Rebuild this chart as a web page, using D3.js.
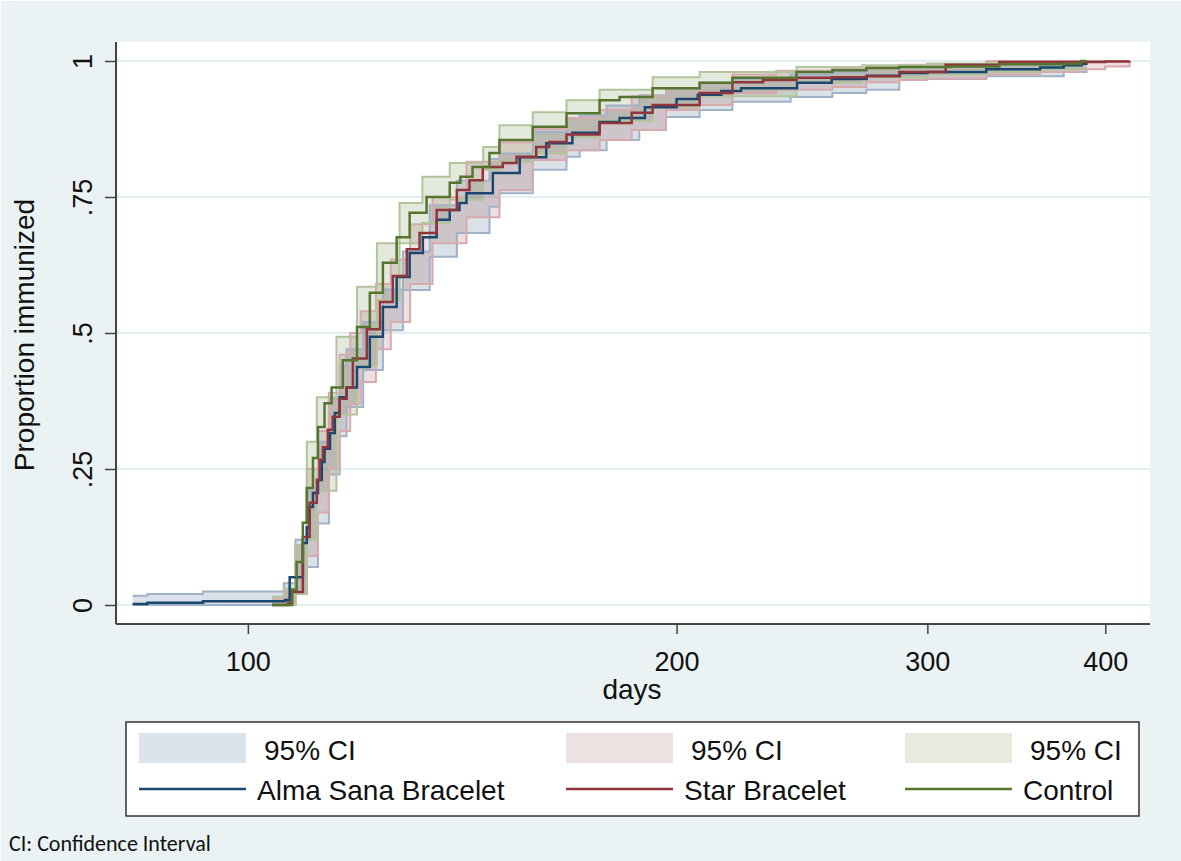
<!DOCTYPE html>
<html>
<head>
<meta charset="utf-8">
<script src="https://cdn.jsdelivr.net/npm/d3@7"></script>
<style>
  body { margin: 0; background: #ffffff; }
  text { font-family: "Liberation Sans", Arial, sans-serif; fill: #111; }
</style>
</head>
<body>
<div id="chart"></div>
<script>
// Kaplan-Meier failure estimates (proportion immunized)
const blueDays = [83, 85, 93, 106.2, 107, 109.3, 110, 110.5, 111.1, 112, 112.7, 113.2, 114.2, 115.1, 116, 117.3, 119.3, 121.8, 124.4, 127.2, 129.9, 132.7, 135.7, 138.6, 140.8, 142.4, 148.6, 155.2, 162, 169, 176.6, 182.4, 190, 200, 207, 215, 222, 230, 243, 257, 272, 287, 300, 330, 360, 374, 385, 388];
const blueEst  = [0.002, 0.004, 0.007, 0.009, 0.051, 0.114, 0.143, 0.18, 0.206, 0.23, 0.263, 0.287, 0.316, 0.353, 0.382, 0.40, 0.4375, 0.493, 0.548, 0.603, 0.647, 0.676, 0.708, 0.726, 0.739, 0.757, 0.794, 0.823, 0.849, 0.868, 0.888, 0.895, 0.915, 0.93, 0.938, 0.945, 0.95, 0.95, 0.96, 0.967, 0.973, 0.978, 0.98, 0.985, 0.988, 0.992, 0.995, 0.998];
const blueCiDays = [83, 85, 93, 104, 106, 108, 110, 112, 114, 116, 117.3, 120.5, 124.4, 128.5, 134.2, 140.2, 147.8, 150.2, 158.5, 167.4, 171, 178.6, 188.3, 196.6, 207.6, 218.9, 240.5, 257.3, 271.8, 286.7, 299.6, 330, 374, 388];
const blueLo   = [0, 0, 0, 0, 0, 0.02, 0.07, 0.15, 0.24, 0.31, 0.364, 0.432, 0.505, 0.579, 0.64, 0.684, 0.732, 0.757, 0.80, 0.824, 0.836, 0.855, 0.873, 0.897, 0.91, 0.925, 0.934, 0.941, 0.947, 0.965, 0.967, 0.972, 0.98, 0.987];
const blueHi   = [0.017, 0.02, 0.025, 0.025, 0.04, 0.12, 0.21, 0.30, 0.38, 0.44, 0.47, 0.52, 0.58, 0.65, 0.735, 0.78, 0.82, 0.83, 0.87, 0.895, 0.90, 0.918, 0.937, 0.95, 0.96, 0.967, 0.975, 0.98, 0.987, 0.99, 0.99, 0.993, 0.996, 1];

const redDays = [104, 106.7, 107.4, 109.3, 110.5, 111.8, 112.3, 112.9, 113.8, 114.7, 116, 117.3, 118.5, 121.2, 123.8, 126.4, 129.3, 132, 135.7, 140.2, 143.1, 146.2, 151, 154.4, 159.4, 162.8, 167.4, 176.6, 186, 192.4, 207.6, 218.9, 230, 242.8, 257.3, 271.8, 286.7, 309, 337, 360, 400, 416];
const redEst  = [0, 0.004, 0.024, 0.125, 0.188, 0.23, 0.267, 0.29, 0.322, 0.346, 0.379, 0.40, 0.453, 0.507, 0.557, 0.605, 0.654, 0.684, 0.726, 0.763, 0.781, 0.805, 0.8125, 0.824, 0.842, 0.851, 0.865, 0.886, 0.905, 0.919, 0.941, 0.961, 0.965, 0.969, 0.97, 0.972, 0.98, 0.993, 0.998, 0.998, 0.999, 1];
const redCiDays = [104, 106, 108, 110, 112, 114, 116, 118, 120, 123, 126, 130, 134.8, 142.4, 150.2, 158.5, 167.4, 176.6, 186, 196.6, 207.6, 218.9, 235, 257.3, 271.8, 286.7, 300, 330, 360, 385, 400, 416];
const redLo   = [0, 0, 0.02, 0.09, 0.17, 0.25, 0.32, 0.37, 0.41, 0.47, 0.52, 0.59, 0.665, 0.713, 0.763, 0.818, 0.836, 0.855, 0.873, 0.91, 0.919, 0.941, 0.947, 0.952, 0.961, 0.965, 0.968, 0.975, 0.98, 0.985, 0.99, 1];
const redHi   = [0.01, 0.03, 0.11, 0.25, 0.32, 0.39, 0.46, 0.50, 0.54, 0.59, 0.635, 0.70, 0.75, 0.815, 0.85, 0.875, 0.895, 0.91, 0.935, 0.95, 0.96, 0.975, 0.982, 0.987, 0.99, 0.993, 0.995, 1, 1, 1, 1, 1];

const greenDays = [104, 107.4, 108.2, 109.3, 110, 111.1, 112, 113.2, 114.5, 116.6, 119.3, 121.8, 124.4, 127.2, 129.9, 133.5, 138.6, 141, 143.8, 147.8, 150.2, 158.5, 167.4, 176.6, 182.4, 192.4, 207.6, 218.9, 242.8, 257.3, 271.8, 286.7, 311.3, 337, 374.3, 384.7, 388];
const greenEst  = [0, 0.028, 0.079, 0.151, 0.215, 0.27, 0.327, 0.371, 0.40, 0.45, 0.511, 0.574, 0.629, 0.676, 0.721, 0.75, 0.776, 0.787, 0.805, 0.831, 0.855, 0.879, 0.904, 0.928, 0.934, 0.95, 0.96, 0.969, 0.98, 0.983, 0.987, 0.989, 0.99, 0.994, 0.995, 1, 1];
const greenCiDays = [104, 106, 108, 110, 111.8, 115.4, 119.3, 123.2, 127.8, 132.6, 138.6, 146.3, 150.2, 158.5, 167.4, 176.6, 192.4, 207.6, 242.8, 270, 300, 330, 360, 385, 388];
const greenLo   = [0, 0, 0.02, 0.12, 0.21, 0.35, 0.44, 0.56, 0.665, 0.702, 0.745, 0.80, 0.815, 0.83, 0.86, 0.89, 0.915, 0.935, 0.96, 0.97, 0.975, 0.98, 0.985, 0.99, 0.99];
const greenHi   = [0.015, 0.03, 0.11, 0.30, 0.382, 0.493, 0.585, 0.665, 0.739, 0.787, 0.8125, 0.842, 0.882, 0.906, 0.928, 0.947, 0.97, 0.98, 0.989, 0.992, 0.995, 0.997, 0.998, 1, 1];

const groupNames = ["Alma Sana Bracelet", "Star Bracelet", "Control"];
const xTicks = [100, 200, 300, 400];
const yTicks = [0, 0.25, 0.5, 0.75, 1];

const W = 1181, H = 861;
const plot = {left: 116, right: 1150, top: 42, bottom: 624};

const lineColor = ["#1a476f", "#90353b", "#55752f"];
const fillColor = ["#dde3ea", "#eee1e2", "#e6eadf"];
const edgeColor = ["#9fb2c7", "#d8aaad", "#b1c49c"];

const estimates = [
  blueDays.map((d, i) => ({day: d, v: blueEst[i]})),
  redDays.map((d, i) => ({day: d, v: redEst[i]})),
  greenDays.map((d, i) => ({day: d, v: greenEst[i]}))
];
const bands = [
  blueCiDays.map((d, i) => ({day: d, lo: blueLo[i], hi: blueHi[i]})),
  redCiDays.map((d, i) => ({day: d, lo: redLo[i], hi: redHi[i]})),
  greenCiDays.map((d, i) => ({day: d, lo: greenLo[i], hi: greenHi[i]}))
];

const svg = d3.select("#chart").append("svg")
  .attr("width", W).attr("height", H);

// backgrounds
svg.append("rect").attr("x", 1).attr("y", 1).attr("width", W - 1).attr("height", H - 1).attr("fill", "#eaf2f3");
svg.append("rect").attr("x", plot.left).attr("y", plot.top)
  .attr("width", plot.right - plot.left).attr("height", plot.bottom - plot.top).attr("fill", "#ffffff");

const x = d3.scaleLog().domain([80.8, 430]).range([plot.left, plot.right]);
const y = d3.scaleLinear().domain([0, 1]).range([605, 61]);

// gridlines
svg.append("g").selectAll("line").data(yTicks).enter().append("line")
  .attr("x1", plot.left).attr("x2", plot.right)
  .attr("y1", d => y(d)).attr("y2", d => y(d))
  .attr("stroke", "#e4eef0").attr("stroke-width", 2);

// CI bands
const area = d3.area().curve(d3.curveStepAfter)
  .x(d => x(d.day)).y0(d => y(d.lo)).y1(d => y(d.hi));
const loLine = d3.line().curve(d3.curveStepAfter).x(d => x(d.day)).y(d => y(d.lo));
const hiLine = d3.line().curve(d3.curveStepAfter).x(d => x(d.day)).y(d => y(d.hi));
const estLine = d3.line().curve(d3.curveStepAfter).x(d => x(d.day)).y(d => y(d.v));

bands.forEach((s, i) => {
  svg.append("path").attr("d", area(s))
    .attr("fill", lineColor[i]).attr("fill-opacity", 0.16);
});
bands.forEach((s, i) => {
  svg.append("path").attr("d", loLine(s)).attr("fill", "none")
    .attr("stroke", edgeColor[i]).attr("stroke-width", 2);
  svg.append("path").attr("d", hiLine(s)).attr("fill", "none")
    .attr("stroke", edgeColor[i]).attr("stroke-width", 2);
});
estimates.forEach((s, i) => {
  svg.append("path").attr("d", estLine(s)).attr("fill", "none")
    .attr("stroke", lineColor[i]).attr("stroke-width", 2.5);
});

// axes
const yAxis = svg.append("g").attr("transform", `translate(${plot.left},0)`)
  .call(d3.axisLeft(y).tickValues(yTicks).tickSize(11).tickSizeOuter(0)
    .tickFormat(d => d === 0 ? "0" : d === 1 ? "1" : String(d).replace(/^0/, "")));
yAxis.select(".domain").remove();
yAxis.selectAll(".tick line").attr("stroke", "#444").attr("stroke-width", 1.5);
yAxis.selectAll(".tick text")
  .attr("x", null).attr("dy", null)
  .attr("transform", "translate(-24,0) rotate(-90)")
  .attr("text-anchor", "middle")
  .style("font-size", "27px").style("font-family", "Liberation Sans, Arial, sans-serif").attr("fill", "#111");

const xAxis = svg.append("g").attr("transform", `translate(0,${plot.bottom})`)
  .call(d3.axisBottom(x).tickValues(xTicks).tickSize(10).tickPadding(18).tickSizeOuter(0)
    .tickFormat(d3.format("d")));
xAxis.select(".domain").remove();
xAxis.selectAll(".tick line").attr("stroke", "#444").attr("stroke-width", 1.5);
xAxis.selectAll(".tick text")
  .style("font-size", "27px").style("font-family", "Liberation Sans, Arial, sans-serif").attr("fill", "#111");

svg.append("line").attr("x1", plot.left).attr("x2", plot.left)
  .attr("y1", plot.top).attr("y2", plot.bottom).attr("stroke", "#444").attr("stroke-width", 2);
svg.append("line").attr("x1", plot.left).attr("x2", plot.right)
  .attr("y1", plot.bottom).attr("y2", plot.bottom).attr("stroke", "#444").attr("stroke-width", 2);

// axis titles
svg.append("text").attr("transform", "translate(34,335) rotate(-90)")
  .attr("text-anchor", "middle").style("font-size", "28px").text("Proportion immunized");
svg.append("text").attr("x", 632).attr("y", 699)
  .attr("text-anchor", "middle").style("font-size", "28px").text("days");

// legend
const legend = svg.append("g");
legend.append("rect").attr("x", 126).attr("y", 722).attr("width", 1013).attr("height", 94)
  .attr("fill", "#ffffff").attr("stroke", "#333").attr("stroke-width", 1.5);
const legendX = [139, 566, 905];
groupNames.forEach((name, i) => {
  const g = legend.append("g").attr("transform", `translate(${legendX[i]},0)`);
  g.append("rect").attr("x", 0).attr("y", 733).attr("width", 107).attr("height", 30)
    .attr("fill", fillColor[i]);
  g.append("text").attr("x", 125).attr("y", 760).style("font-size", "28px").text("95% CI");
  g.append("line").attr("x1", 0).attr("x2", 107).attr("y1", 789).attr("y2", 789)
    .attr("stroke", lineColor[i]).attr("stroke-width", 2.5);
  g.append("text").attr("x", 118).attr("y", 800).style("font-size", "28px").text(name);
});

svg.append("text").attr("x", 9).attr("y", 851)
  .style("font-family", "Carlito, 'Open Sans', sans-serif").style("font-size", "22px")
  .text("CI: Confidence Interval");
</script>
</body>
</html>
